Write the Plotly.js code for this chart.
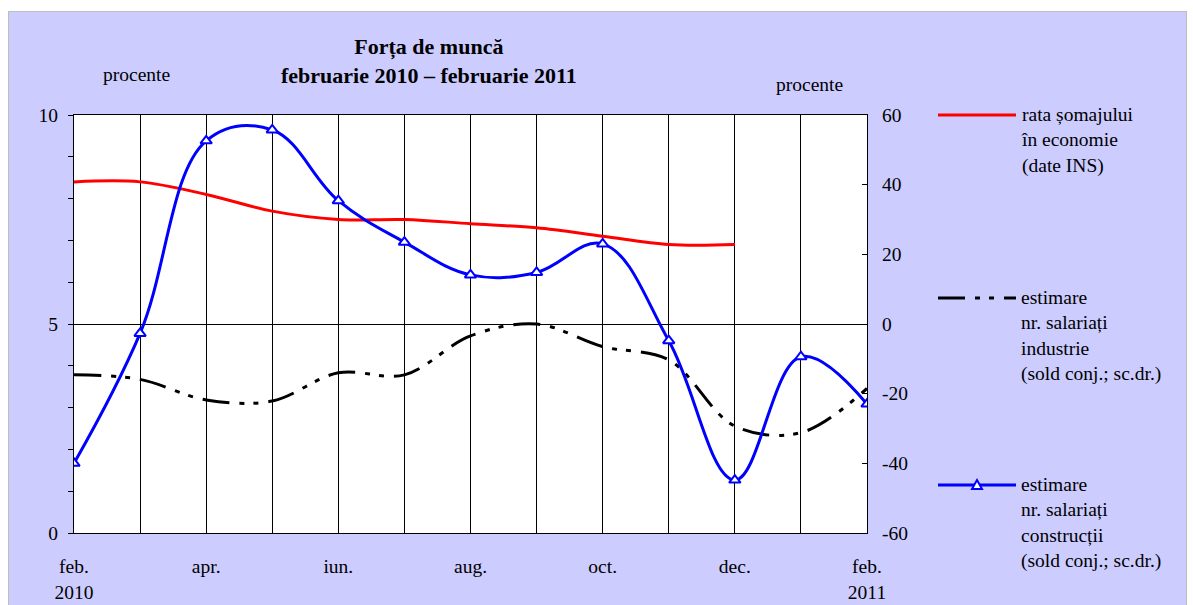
<!DOCTYPE html>
<html>
<head>
<meta charset="utf-8">
<script src="https://cdn.plot.ly/plotly-3.0.1.min.js"></script>
<style>
  html, body { margin: 0; padding: 0; background: #ffffff; overflow: hidden; }
  #frame { position: absolute; left: 8px; top: 11px; width: 1179px; height: 600px;
           box-sizing: border-box; border: 1px solid #bdbdbd; background: #ccccff; }
  #chart { position: absolute; left: 0px; top: 0px; width: 1177px; height: 593px; }
</style>
</head>
<body>
<div id="frame"><div id="chart"></div></div>
<script>
// Categories (months)
const months = ['feb. 2010','mar. 2010','apr. 2010','mai 2010','iun. 2010','iul. 2010','aug. 2010',
                'sep. 2010','oct. 2010','nov. 2010','dec. 2010','ian. 2011','feb. 2011'];
const tickLabels = ['feb.<br>2010','','apr.','','iun.','','aug.','','oct.','','dec.','','feb.<br>2011'];

// Right axis tick labels (hyphen minus as in the original)
const rightTickVals = [-60, -40, -20, 0, 20, 40, 60];
const rightTickText = ['-60', '-40', '-20', '0', '20', '40', '60'];

// Series values
const rataSomajului = [8.4, 8.4, 8.1, 7.7, 7.5, 7.5, 7.4, 7.3, 7.1, 6.9, 6.9, null, null];     // left axis, %
const salariatiIndustrie = [-14.6, -15.9, -21.8, -22.1, -14.0, -14.6, -3.4, 0.0, -6.5, -10.3, -29.3, -31.2, -18.5]; // right axis
const salariatiConstructii = [-40, -2.7, 52.6, 55.7, 35.4, 23.5, 14.1, 14.8, 23.0, -4.8, -44.8, -9.4, -23.0];   // right axis

const names = ['rata șomajului<br>în economie<br>(date INS)',
               'estimare<br>nr. salariați<br>industrie<br>(sold conj.; sc.dr.)',
               'estimare<br>nr. salariați<br>construcții<br>(sold conj.; sc.dr.)'];

const FONT = 'Liberation Serif, Times New Roman, serif';
const blackDash = '27px,10px,5px,9px,5px,10px';

const traces = [
  { x: months, y: rataSomajului, type: 'scatter', mode: 'lines', name: names[0],
    line: { color: '#ff0000', width: 3, shape: 'spline', smoothing: 1 }, yaxis: 'y', connectgaps: false },
  { x: months, y: salariatiIndustrie, type: 'scatter', mode: 'lines', name: names[1],
    line: { color: '#000000', width: 3, shape: 'spline', smoothing: 1, dash: blackDash }, yaxis: 'y2' },
  { x: months, y: salariatiConstructii, type: 'scatter', mode: 'lines+markers', name: names[2],
    line: { color: '#0000ff', width: 3, shape: 'spline', smoothing: 1.1 },
    marker: { symbol: 'triangle-up', size: 10, color: '#ffffff', line: { color: '#0000ff', width: 2 } },
    yaxis: 'y2' }
];

// paper-coordinate helpers (page pixel -> paper fraction)
const PL = 74, PR = 867, PT = 115, PB = 533;
const px = x => (x - PL) / (PR - PL);
const py = y => (PB - y) / (PB - PT);

const legendRows = [115, 298, 485];
const legendColors = ['#ff0000', '#000000', '#0000ff'];
const legendDash = ['solid', blackDash, 'solid'];
const shapes = [];
const annotations = [];
legendRows.forEach((row, i) => {
  shapes.push({ type: 'line', xref: 'paper', yref: 'paper', x0: px(938), x1: px(1016), y0: py(row), y1: py(row),
                line: { color: legendColors[i], width: 3, dash: legendDash[i] } });
  const nLines = names[i].split('<br>').length;
  annotations.push({ xref: 'paper', yref: 'paper', x: px(1019), y: py(row + (nLines - 1) * 25 / 2),
                     xanchor: 'left', yanchor: 'middle', align: 'left', showarrow: false,
                     text: names[i], font: { family: FONT, size: 19.5, color: '#000' } });
});
shapes.push({ type: 'path', xref: 'paper', yref: 'paper', xsizemode: 'pixel', ysizemode: 'pixel',
              xanchor: px(977), yanchor: py(485), path: 'M-5,-4 L5,-4 L0,5 Z',
              fillcolor: '#ffffff', line: { color: '#0000ff', width: 2 } });

annotations.push({ xref: 'paper', yref: 'paper', x: px(429), y: py(61), xanchor: 'center', yanchor: 'middle',
                   showarrow: false, align: 'center',
                   text: '<b>Forța de muncă<br>februarie 2010 – februarie 2011</b>',
                   font: { family: FONT, size: 22, color: '#000' } });
annotations.push({ xref: 'paper', yref: 'paper', x: px(136), y: py(75), xanchor: 'center', yanchor: 'middle',
                   showarrow: false, text: 'procente', font: { family: FONT, size: 19.5, color: '#000' } });
annotations.push({ xref: 'paper', yref: 'paper', x: px(809), y: py(85), xanchor: 'center', yanchor: 'middle',
                   showarrow: false, text: 'procente', font: { family: FONT, size: 19.5, color: '#000' } });

const layout = {
  width: 1177, height: 593,
  margin: { l: 65, r: 319, t: 103, b: 72 },
  paper_bgcolor: '#ccccff', plot_bgcolor: '#ffffff',
  showlegend: false,
  font: { family: FONT, size: 19.5, color: '#000' },
  xaxis: { type: 'category', categoryorder: 'array', categoryarray: months,
           range: [0, 12], tickvals: months, ticktext: tickLabels, ticks: '',
           showgrid: true, gridcolor: '#000', gridwidth: 1,
           showline: true, linecolor: '#000', linewidth: 1, mirror: true,
           ticklabelstandoff: 16, zeroline: false, fixedrange: true },
  yaxis: { range: [0, 10], dtick: 5, tick0: 0, ticks: 'outside', ticklen: 5, tickcolor: '#000',
           minor: { dtick: 1, ticks: 'outside', ticklen: 5, tickcolor: '#000', showgrid: false },
           showgrid: true, gridcolor: '#000', gridwidth: 1, zeroline: false,
           showline: true, linecolor: '#000', linewidth: 1, ticklabelstandoff: 6 },
  yaxis2: { range: [-60, 60], tickmode: 'array', tickvals: rightTickVals, ticktext: rightTickText,
            ticks: 'inside', ticklen: 5, tickcolor: '#000',
            overlaying: 'y', side: 'right', showgrid: false, zeroline: false,
            showline: true, linecolor: '#000', linewidth: 1, ticklabelstandoff: 10 },
  shapes: shapes,
  annotations: annotations
};

Plotly.newPlot('chart', traces, layout, { staticPlot: true, displayModeBar: false });
</script>
</body>
</html>
